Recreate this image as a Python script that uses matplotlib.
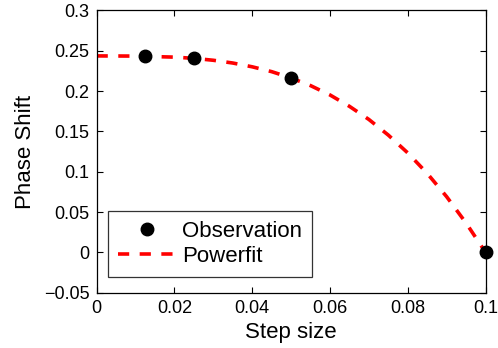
import matplotlib
matplotlib.use("Agg")
import matplotlib.pyplot as plt

plt.rcParams["font.family"] = ["Liberation Sans", "DejaVu Sans"]

# observations
obs_x = [0.0125, 0.025, 0.05, 0.1]
obs_y = [0.2433, 0.2412, 0.2163, 0.0]

# power fit curve
fit_x = [0.0, 0.01, 0.02, 0.025, 0.03, 0.035, 0.04, 0.045, 0.05, 0.055,
         0.06, 0.065, 0.07, 0.075, 0.08, 0.085, 0.09, 0.095, 0.1]
fit_y = [0.2436, 0.2434, 0.2421, 0.2406, 0.2382, 0.2348, 0.2301, 0.2241,
         0.2163, 0.2068, 0.1952, 0.1811, 0.1648, 0.1454, 0.1233, 0.0979,
         0.0690, 0.0363, 0.0]

xticks = [0, 0.02, 0.04, 0.06, 0.08, 0.1]
xtick_labels = ["0", "0.02", "0.04", "0.06", "0.08", "0.1"]
yticks = [-0.05, 0, 0.05, 0.1, 0.15, 0.2, 0.25, 0.3]
ytick_labels = ["\u22120.05", "0", "0.05", "0.1", "0.15", "0.2", "0.25", "0.3"]

fig = plt.figure(figsize=(4.98, 3.48), dpi=100)
ax = fig.add_axes([0.194, 0.159, 0.781, 0.811])

ax.plot(obs_x, obs_y, "o", color="black", markersize=9, label="Observation",
        zorder=3, clip_on=False)
ax.plot(fit_x, fit_y, "--", color="red", linewidth=2.6, dashes=(3.1, 2.9),
        label="Powerfit", zorder=2)

ax.set_xlim(0, 0.1)
ax.set_ylim(-0.05, 0.3)
ax.set_xticks(xticks)
ax.set_xticklabels(xtick_labels)
ax.set_yticks(yticks)
ax.set_yticklabels(ytick_labels)
ax.tick_params(direction="in", top=True, right=True, length=4, width=0.8,
               labelsize=13, pad=5)
for s in ax.spines.values():
    s.set_linewidth(0.9)

ax.set_xlabel("Step size", fontsize=16, labelpad=4)
ax.set_ylabel("Phase Shift", fontsize=16, labelpad=6)

leg = ax.legend(loc="lower left", bbox_to_anchor=(0.03, 0.057), fontsize=16,
                frameon=True, fancybox=False, edgecolor="black",
                borderpad=0.45, labelspacing=0.15, handlelength=2.56,
                handletextpad=0.3, borderaxespad=0)
leg.get_frame().set_linewidth(0.9)

fig.savefig("out.png", dpi=100, facecolor="white")
